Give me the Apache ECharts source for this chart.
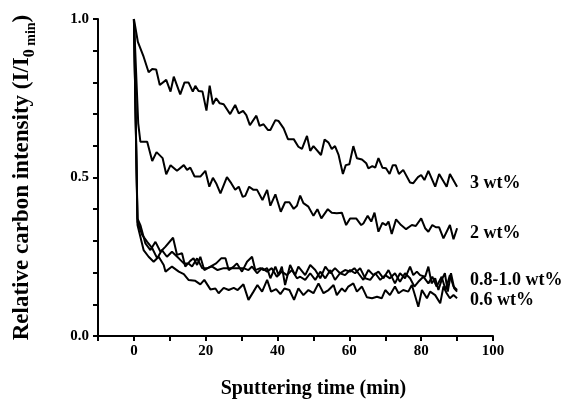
<!DOCTYPE html>
<html>
<head>
<meta charset="utf-8">
<script src="https://cdn.jsdelivr.net/npm/echarts@6/dist/echarts.min.js"></script>
<style>html,body{margin:0;padding:0;background:#fff;}#c{width:572px;height:400px;}</style>
</head>
<body>
<div id="c"></div>
<script>
// Sputtering time (min) and relative carbon intensity, per sample
var time3 = [0, 1.1, 2.7, 4.1, 5.1, 6.2, 7.2, 9.0, 10.2, 11.1, 12.9, 14.1, 15.2, 16.4, 17.1, 18.0, 19.1, 20.2, 21.1, 22.0, 22.9, 23.9, 25.0, 26.8, 28.2, 29.2, 30.4, 31.3, 32.3, 34.1, 35.0, 36.1, 37.3, 38.0, 39.4, 40.3, 41.7, 42.9, 44.5, 45.8, 46.8, 48.2, 49.1, 50.0, 52.1, 53.1, 54.2, 55.1, 56.0, 57.0, 58.2, 59.0, 60.0, 61.1, 62.1, 63.5, 64.7, 65.3, 66.4, 67.2, 68.1, 69.2, 70.2, 71.2, 72.1, 72.9, 73.8, 75.0, 76.9, 77.8, 79.1, 80.0, 80.9, 82.0, 83.9, 85.0, 87.1, 88.0, 90.0];
var wt3 = [1.0, 0.928, 0.881, 0.832, 0.842, 0.841, 0.792, 0.808, 0.771, 0.818, 0.762, 0.800, 0.800, 0.771, 0.789, 0.773, 0.771, 0.711, 0.790, 0.731, 0.750, 0.734, 0.731, 0.700, 0.729, 0.702, 0.710, 0.697, 0.665, 0.695, 0.663, 0.668, 0.650, 0.650, 0.681, 0.678, 0.655, 0.621, 0.621, 0.597, 0.590, 0.631, 0.584, 0.599, 0.571, 0.620, 0.610, 0.590, 0.599, 0.571, 0.511, 0.539, 0.542, 0.599, 0.561, 0.557, 0.545, 0.529, 0.536, 0.531, 0.561, 0.531, 0.529, 0.511, 0.539, 0.539, 0.511, 0.524, 0.484, 0.482, 0.501, 0.508, 0.492, 0.521, 0.471, 0.511, 0.471, 0.511, 0.471];

var time2 = [0, 1.2, 1.8, 3.7, 5.1, 6.3, 8.0, 9.0, 10.2, 12.0, 13.9, 14.8, 15.7, 16.9, 18.5, 19.9, 21.0, 22.0, 22.9, 24.1, 25.9, 27.1, 28.2, 29.2, 30.3, 31.0, 32.1, 33.3, 34.3, 35.8, 37.1, 38.0, 39.4, 40.9, 42.1, 43.3, 44.5, 45.4, 46.3, 47.2, 48.6, 50.0, 51.1, 52.2, 54.0, 55.1, 56.5, 57.9, 59.1, 60.2, 61.9, 63.3, 63.9, 65.1, 66.1, 67.0, 68.1, 69.2, 70.2, 70.9, 71.8, 73.0, 74.4, 75.8, 77.4, 78.5, 80.0, 81.1, 82.0, 83.1, 84.1, 85.0, 86.2, 88.0, 89.0, 90.0];
var wt2 = [1.0, 0.671, 0.613, 0.613, 0.552, 0.580, 0.561, 0.510, 0.539, 0.521, 0.539, 0.524, 0.531, 0.503, 0.503, 0.521, 0.471, 0.499, 0.482, 0.450, 0.501, 0.482, 0.461, 0.471, 0.439, 0.442, 0.471, 0.461, 0.461, 0.429, 0.461, 0.411, 0.447, 0.392, 0.422, 0.422, 0.401, 0.411, 0.443, 0.419, 0.408, 0.379, 0.400, 0.371, 0.400, 0.389, 0.387, 0.389, 0.350, 0.371, 0.371, 0.350, 0.355, 0.379, 0.361, 0.389, 0.329, 0.357, 0.350, 0.361, 0.322, 0.368, 0.350, 0.337, 0.350, 0.347, 0.371, 0.340, 0.329, 0.350, 0.343, 0.343, 0.308, 0.350, 0.305, 0.340];

var time08 = [0, 1.0, 1.8, 3.2, 4.6, 6.0, 7.4, 8.8, 10.9, 12.0, 13.4, 14.3, 15.7, 16.6, 17.6, 18.5, 19.6, 21.3, 22.9, 24.3, 25.5, 26.4, 27.8, 28.7, 30.1, 31.5, 32.9, 33.8, 35.2, 36.1, 37.1, 38.0, 39.4, 40.3, 41.2, 42.1, 43.5, 44.9, 45.8, 47.7, 49.1, 50.5, 51.9, 53.3, 54.7, 56.0, 57.4, 58.8, 60.2, 61.4, 62.5, 63.9, 65.3, 66.7, 68.1, 69.5, 70.9, 72.7, 74.1, 75.5, 76.9, 77.8, 78.8, 79.7, 81.1, 82.0, 82.9, 83.9, 84.8, 85.7, 86.6, 87.4, 88.3, 89.2, 90.0];
var wt08 = [1.0, 0.370, 0.350, 0.292, 0.271, 0.297, 0.266, 0.282, 0.310, 0.256, 0.261, 0.219, 0.237, 0.245, 0.224, 0.250, 0.208, 0.219, 0.229, 0.245, 0.245, 0.208, 0.219, 0.229, 0.203, 0.234, 0.250, 0.208, 0.214, 0.208, 0.214, 0.182, 0.219, 0.192, 0.219, 0.161, 0.224, 0.192, 0.219, 0.192, 0.224, 0.208, 0.182, 0.219, 0.198, 0.214, 0.198, 0.208, 0.203, 0.214, 0.198, 0.177, 0.208, 0.192, 0.203, 0.182, 0.208, 0.166, 0.198, 0.182, 0.219, 0.192, 0.203, 0.192, 0.187, 0.219, 0.166, 0.182, 0.145, 0.177, 0.198, 0.140, 0.198, 0.150, 0.140];

var time10 = [0, 1.0, 2.3, 3.7, 5.1, 6.5, 7.8, 9.2, 10.6, 12.5, 13.9, 15.2, 16.2, 17.6, 19.0, 20.4, 21.8, 23.3, 25.0, 26.8, 28.7, 30.5, 31.9, 32.9, 34.3, 35.7, 37.1, 38.4, 39.8, 41.2, 42.6, 44.0, 45.4, 46.3, 47.7, 49.1, 50.5, 51.9, 53.3, 54.7, 56.0, 57.4, 58.8, 60.2, 61.6, 63.0, 64.4, 65.8, 67.2, 68.6, 70.0, 71.3, 72.7, 74.1, 75.5, 76.9, 78.1, 79.2, 80.6, 82.0, 83.1, 84.3, 85.7, 86.8, 88.0, 89.0, 90.0];
var wt10 = [1.0, 0.360, 0.319, 0.297, 0.277, 0.245, 0.271, 0.250, 0.266, 0.245, 0.229, 0.229, 0.219, 0.245, 0.214, 0.214, 0.219, 0.208, 0.214, 0.214, 0.214, 0.214, 0.208, 0.219, 0.198, 0.214, 0.203, 0.214, 0.187, 0.203, 0.192, 0.208, 0.182, 0.187, 0.177, 0.198, 0.177, 0.203, 0.182, 0.208, 0.177, 0.198, 0.192, 0.208, 0.198, 0.214, 0.182, 0.177, 0.198, 0.177, 0.192, 0.182, 0.198, 0.171, 0.198, 0.182, 0.156, 0.171, 0.187, 0.166, 0.187, 0.156, 0.187, 0.145, 0.192, 0.156, 0.145];

var time06 = [0, 1.0, 2.7, 4.1, 5.5, 6.9, 8.3, 8.8, 10.6, 11.1, 12.5, 13.9, 15.2, 17.1, 18.5, 19.6, 21.3, 22.7, 23.6, 25.0, 26.4, 27.8, 28.9, 30.5, 31.9, 33.3, 34.4, 35.7, 37.1, 38.2, 39.6, 40.8, 41.9, 43.3, 44.6, 45.8, 47.2, 48.6, 50.0, 51.4, 52.8, 54.2, 55.6, 56.5, 57.9, 58.8, 59.7, 61.1, 62.1, 63.5, 64.9, 66.3, 67.7, 69.0, 70.0, 71.3, 72.7, 73.7, 75.0, 76.4, 77.4, 78.1, 79.2, 80.2, 81.6, 82.5, 83.9, 85.3, 86.2, 87.1, 88.0, 89.0, 90.0];
var wt06 = [1.0, 0.350, 0.271, 0.250, 0.234, 0.250, 0.224, 0.203, 0.219, 0.214, 0.203, 0.195, 0.177, 0.174, 0.163, 0.177, 0.147, 0.150, 0.135, 0.152, 0.145, 0.152, 0.145, 0.163, 0.114, 0.140, 0.161, 0.140, 0.177, 0.140, 0.148, 0.132, 0.150, 0.145, 0.114, 0.150, 0.129, 0.145, 0.135, 0.166, 0.135, 0.145, 0.161, 0.129, 0.150, 0.140, 0.156, 0.166, 0.140, 0.156, 0.122, 0.119, 0.124, 0.119, 0.145, 0.129, 0.156, 0.135, 0.145, 0.140, 0.161, 0.135, 0.092, 0.145, 0.119, 0.140, 0.129, 0.103, 0.156, 0.135, 0.119, 0.129, 0.119];

var curveLabels = ['3 wt%', '2 wt%', '0.8-1.0 wt%', '', '0.6 wt%'];
var xTitle = 'Sputtering time (min)';
var yTitleMain = 'Relative carbon intensity (I/I';
var yTitleSub0 = '0';
var yTitleSub1 = ' min';

var FONT = '"Liberation Serif", "Times New Roman", serif';

function pairs(t, v) { return t.map(function (x, i) { return [x, v[i]]; }); }

var curves = [
  { t: time3, v: wt3, label: curveLabels[0], dy: -3 },
  { t: time2, v: wt2, label: curveLabels[1], dy: 5 },
  { t: time08, v: wt08, label: curveLabels[2], dy: -11 },
  { t: time10, v: wt10, label: curveLabels[3], dy: 0 },
  { t: time06, v: wt06, label: curveLabels[4], dy: 2 }
];

var chart = echarts.init(document.getElementById('c'));

chart.setOption({
  animation: false,
  grid: { left: 98, right: 79, top: 19, bottom: 64, outerBoundsMode: 'none' },
  xAxis: {
    type: 'value', min: -10, max: 100, interval: 10,
    axisLine: { show: true, onZero: false, lineStyle: { color: '#000', width: 2 } },
    axisTick: { show: true, length: 5, lineStyle: { color: '#000', width: 2 } },
    axisLabel: {
      fontFamily: FONT, fontWeight: 'bold', fontSize: 15, color: '#000', margin: 8,
      formatter: function (v) { return (v >= 0 && Math.round(v) % 20 === 0) ? String(Math.round(v)) : ''; }
    },
    splitLine: { show: false }
  },
  yAxis: {
    type: 'value', min: 0, max: 1, interval: 0.1,
    axisLine: { show: true, onZero: false, lineStyle: { color: '#000', width: 2 } },
    axisTick: { show: true, length: 5, lineStyle: { color: '#000', width: 2 } },
    axisLabel: {
      fontFamily: FONT, fontWeight: 'bold', fontSize: 15, color: '#000', margin: 9,
      formatter: function (v) { var k = Math.round(v * 10); return (k % 5 === 0) ? (k / 10).toFixed(1) : ''; }
    },
    splitLine: { show: false }
  },
  series: curves.map(function (c) {
    return {
      type: 'line',
      data: pairs(c.t, c.v),
      showSymbol: false,
      lineStyle: { color: '#000', width: 2 }
    };
  })
});

// Titles and curve labels as text, placed through the chart's own coordinate conversion
var graphics = [];
var xMid = chart.convertToPixel({ xAxisIndex: 0 }, 50);
var yBottom = chart.convertToPixel({ yAxisIndex: 0 }, 0);
var yMid = chart.convertToPixel({ yAxisIndex: 0 }, 0.5);
graphics.push({
  type: 'text', x: xMid, y: yBottom + 53,
  style: { text: xTitle, font: 'bold 20px ' + FONT, fill: '#000', align: 'center', verticalAlign: 'middle' }
});
graphics.push({
  type: 'text', x: 23, y: yMid, rotation: Math.PI / 2,
  style: {
    text: '{m|' + yTitleMain + '}{s|' + yTitleSub0 + '}{t|' + yTitleSub1 + '}{m|)}',
    align: 'center', verticalAlign: 'middle', fill: '#000',
    rich: {
      m: { fontFamily: FONT, fontWeight: 'bold', fontSize: 23, fill: '#000', verticalAlign: 'top', lineHeight: 25 },
      s: { fontFamily: FONT, fontWeight: 'bold', fontSize: 16, fill: '#000', verticalAlign: 'top', lineHeight: 16, padding: [11, 0, 0, 0] },
      t: { fontFamily: FONT, fontWeight: 'bold', fontSize: 14, fill: '#000', verticalAlign: 'top', lineHeight: 14, padding: [14, 0, 0, 0] }
    }
  }
});
curves.forEach(function (c) {
  if (!c.label) return;
  var n = c.t.length - 1;
  var p = chart.convertToPixel({ xAxisIndex: 0, yAxisIndex: 0 }, [c.t[n], c.v[n]]);
  graphics.push({
    type: 'text', x: p[0] + 13, y: p[1] + c.dy,
    style: { text: c.label, font: 'bold 18px ' + FONT, fill: '#000', align: 'left', verticalAlign: 'middle' }
  });
});
chart.setOption({ graphic: graphics });
</script>
</body>
</html>
